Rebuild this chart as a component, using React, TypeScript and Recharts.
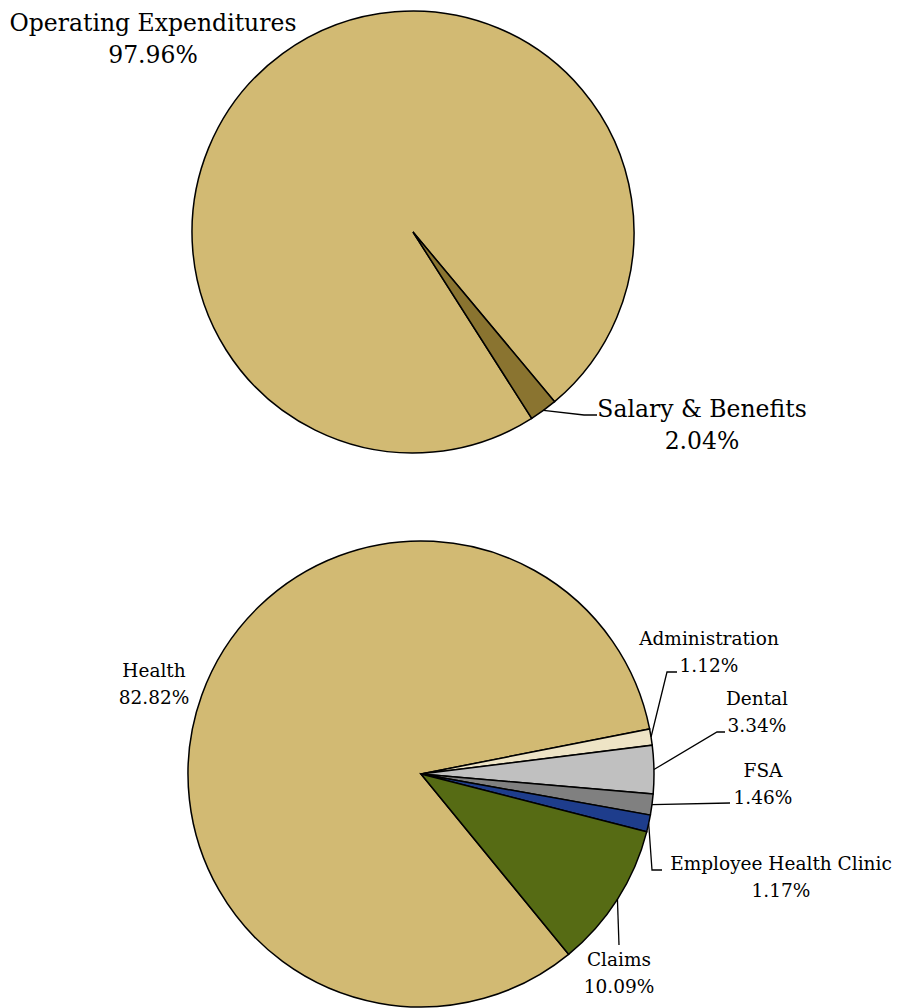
import React from 'react';
import { PieChart, Pie, Cell } from 'recharts';

// top pie: fund expenditures by type
const topNames = ['Operating Expenditures', 'Salary & Benefits'];
const topValues = [97.96, 2.04];
const topColors = ['#D2BA73', '#8A7430'];

// bottom pie: operating expenditures by program
const bottomNames = ['Health', 'Administration', 'Dental', 'FSA', 'Employee Health Clinic', 'Claims'];
const bottomValues = [82.82, 1.12, 3.34, 1.46, 1.17, 10.09];
const bottomColors = ['#D2BA73', '#EEE4C6', '#C0C0C0', '#808080', '#1E3D8C', '#566B14'];

const topData = topNames.map((name, i) => ({ name, value: topValues[i] }));
const bottomData = bottomNames.map((name, i) => ({ name, value: bottomValues[i] }));

// label placement, offsets from the pie centre
type LabelSpot = { line: [number, number][]; tx: number; ty: number };

const topSpots: LabelSpot[] = [
    { line: [], tx: -260, ty: -201 },
    { line: [[171, 183], [184, 183]], tx: 289, ty: 185 },
];

const bottomSpots: LabelSpot[] = [
    { line: [], tx: -267, ty: -97 },
    { line: [[246, -102], [256, -102]], tx: 288, ty: -129 },
    { line: [[296, -42], [304, -42]], tx: 336, ty: -69 },
    { line: [[309, 29]], tx: 342, ty: 3 },
    { line: [[231, 96], [241, 96]], tx: 360, ty: 96 },
    { line: [[198, 171]], tx: 198, ty: 192 },
];

const FONT = '"DejaVu Serif", "Liberation Serif", serif';
const RAD = Math.PI / 180;

const makeLabel = (names: string[], values: number[], spots: LabelSpot[], fontSize: number, gap: number) =>
    (props: any) => {
        const { cx, cy, midAngle, outerRadius, index } = props;
        const spot = spots[index];
        const sx = cx + outerRadius * Math.cos(-midAngle * RAD);
        const sy = cy + outerRadius * Math.sin(-midAngle * RAD);
        const pts = spot.line.length
            ? [[sx, sy], ...spot.line.map(([dx, dy]) => [cx + dx, cy + dy])]
            : [];
        const x = cx + spot.tx;
        return (
            <g key={`lbl-${names[index]}`}>
                {pts.length > 0 && (
                    <polyline
                        points={pts.map((p) => p.join(',')).join(' ')}
                        fill='none'
                        stroke='#000'
                        strokeWidth={1.3}
                    />
                )}
                <text x={x} y={cy + spot.ty} textAnchor='middle' fontFamily={FONT} fontSize={fontSize} fill='#000'>
                    <tspan x={x}>{names[index]}</tspan>
                    <tspan x={x} dy={gap}>{values[index].toFixed(2)}%</tspan>
                </text>
            </g>
        );
    };

export default function App() {
    return (
        <div style={{ position: 'absolute', left: 0, top: 0, width: 899, height: 1008, background: '#fff' }}>
            <PieChart width={899} height={1008} margin={{ top: 0, right: 0, bottom: 0, left: 0 }}>
                <Pie
                    data={topData}
                    dataKey='value'
                    nameKey='name'
                    cx={413}
                    cy={232}
                    outerRadius={221}
                    startAngle={302.5}
                    endAngle={-57.5}
                    stroke='#000'
                    strokeWidth={1.5}
                    labelLine={false}
                    label={makeLabel(topNames, topValues, topSpots, 23.5, 32)}
                    isAnimationActive={false}
                >
                    {topData.map((d, i) => (
                        <Cell key={d.name} fill={topColors[i]} />
                    ))}
                </Pie>
                <Pie
                    data={bottomData}
                    dataKey='value'
                    nameKey='name'
                    cx={421}
                    cy={774}
                    outerRadius={233}
                    startAngle={309.3}
                    endAngle={-50.7}
                    stroke='#000'
                    strokeWidth={1.5}
                    labelLine={false}
                    label={makeLabel(bottomNames, bottomValues, bottomSpots, 18.5, 27)}
                    isAnimationActive={false}
                >
                    {bottomData.map((d, i) => (
                        <Cell key={d.name} fill={bottomColors[i]} />
                    ))}
                </Pie>
            </PieChart>
        </div>
    );
}
